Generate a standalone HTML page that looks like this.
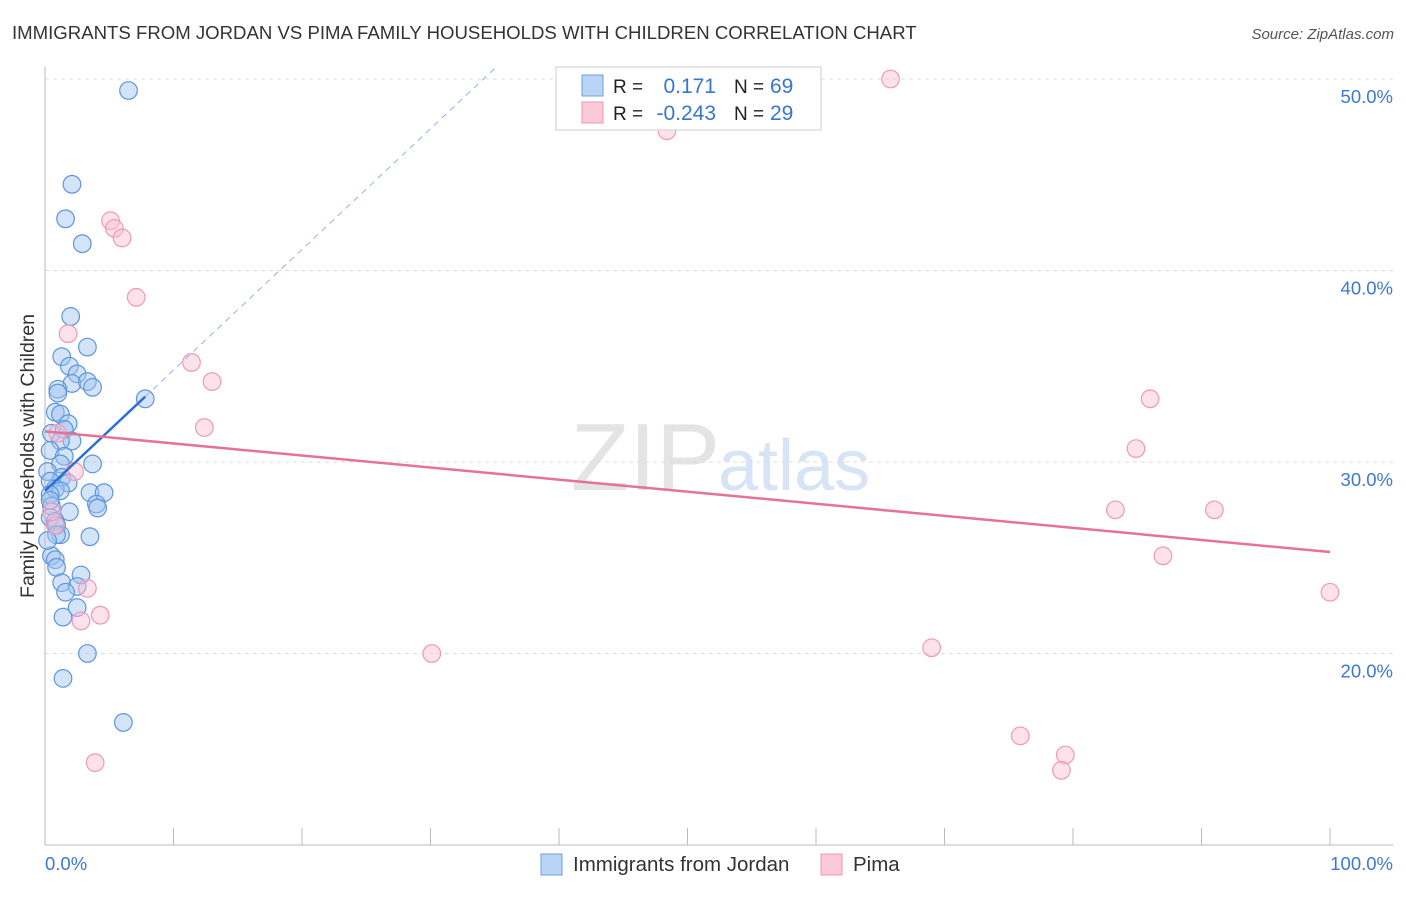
<!DOCTYPE html>
<html><head><meta charset="utf-8"><style>
body{margin:0;background:#fff;font-family:"Liberation Sans",sans-serif;}
svg text{font-family:"Liberation Sans",sans-serif;}
</style></head><body>
<svg id="chart" width="1406" height="892" xmlns="http://www.w3.org/2000/svg">
<text x="12" y="39" font-size="18.6" fill="#333">IMMIGRANTS FROM JORDAN VS PIMA FAMILY HOUSEHOLDS WITH CHILDREN CORRELATION CHART</text>
<text x="1394" y="39" font-size="15" fill="#555" font-style="italic" text-anchor="end">Source: ZipAtlas.com</text>
<text x="720" y="490" font-size="96" fill="#e4e4e4" text-anchor="end" font-family="Liberation Serif">ZIP</text>
<text x="718" y="490" font-size="72" fill="#d6e4f5">atlas</text>
<text transform="translate(34,456) rotate(-90)" font-size="19.5" fill="#333" text-anchor="middle">Family Households with Children</text>
<g id="grid"></g><g id="axes"></g><g id="marks"></g>
<g>
<rect x="556" y="67" width="265" height="63" fill="#fff" stroke="#ddd" stroke-width="1.5"/>
<rect x="582" y="75" width="21" height="21" fill="#b9d4f5" stroke="#6a9fe0"/>
<rect x="582" y="102" width="21" height="21" fill="#fbc9d8" stroke="#ee99b5"/>
<text x="613" y="93" font-size="19" fill="#222">R =</text><text x="716" y="93" font-size="21" fill="#3575d3" text-anchor="end">0.171</text>
<text x="734" y="93" font-size="19" fill="#222">N =</text><text x="770" y="93" font-size="21" fill="#3575d3">69</text>
<text x="613" y="120" font-size="19" fill="#222">R =</text><text x="716" y="120" font-size="21" fill="#3575d3" text-anchor="end">-0.243</text>
<text x="734" y="120" font-size="19" fill="#222">N =</text><text x="770" y="120" font-size="21" fill="#3575d3">29</text>
</g>
<g>
<rect x="541" y="854" width="21" height="21" fill="#b9d4f5" stroke="#6a9fe0"/>
<text x="573" y="871" font-size="20.5" fill="#333">Immigrants from Jordan</text>
<rect x="821" y="854" width="21" height="21" fill="#fbc9d8" stroke="#ee99b5"/>
<text x="853" y="871" font-size="20.5" fill="#333">Pima</text>
</g>
</svg>
<script>
const yTicks=[20,30,40,50];
const yTickLabels=["20.0%","30.0%","40.0%","50.0%"];
const xTickLabels=["0.0%","100.0%"];
const jordanX=[6.5,2.1,1.6,2.9,2.0,3.3,1.3,1.9,2.5,2.1,3.3,3.7,1.0,1.0,7.8,0.8,1.2,1.8,0.5,1.5,2.1,1.2,0.4,1.5,3.7,1.2,0.2,1.3,1.8,0.4,0.8,1.2,3.5,4.6,0.4,4.0,4.1,1.9,0.5,0.4,0.8,0.9,1.2,0.9,3.5,0.5,0.8,0.9,2.8,1.3,2.5,1.6,2.5,1.4,3.3,1.4,6.1,0.4,0.2];
const jordanY=[49.4,44.5,42.7,41.4,37.6,36.0,35.5,35.0,34.6,34.1,34.2,33.9,33.8,33.6,33.3,32.6,32.5,32.0,31.5,31.7,31.1,31.1,30.6,30.3,29.9,29.9,29.5,29.2,28.9,29.0,28.6,28.5,28.4,28.4,28.3,27.8,27.6,27.4,27.7,27.1,26.9,26.7,26.2,26.2,26.1,25.1,24.9,24.5,24.1,23.7,23.5,23.2,22.4,21.9,20.0,18.7,16.4,28.0,25.9];
const pimaX=[65.8,48.4,5.1,5.4,6.0,7.1,1.8,11.4,13.0,12.4,86.0,84.9,2.3,83.3,91.0,87.0,100,3.3,4.3,2.8,30.1,69.0,75.9,79.4,79.1,3.9,0.8,1.0,0.5];
const pimaY=[50.0,47.3,42.6,42.2,41.7,38.6,36.7,35.2,34.2,31.8,33.3,30.7,29.5,27.5,27.5,25.1,23.2,23.4,22.0,21.7,20.0,20.3,15.7,14.7,13.9,14.3,26.7,31.5,27.4];
const jordanTrend=[28.5,0.0,7.8,35.0];   // [yAt0, x0, xSolidEnd, xDashEnd]
const jordanSlope=0.63;
const pimaTrend=[31.6,25.3];
const NS="http://www.w3.org/2000/svg";
const sx=v=>45+v*12.85, sy=v=>462-(v-30)*19.15;
function mk(tag,attrs,parent){const e=document.createElementNS(NS,tag);for(const k in attrs)e.setAttribute(k,attrs[k]);document.getElementById(parent).appendChild(e);return e;}
yTicks.forEach((t,i)=>{
 const g=mk('line',{x1:45,x2:1393,y1:sy(t),y2:sy(t),stroke:'#ddd','stroke-dasharray':'4,4'},'grid');
 
 
 const l=mk('text',{x:1393,y:sy(t)+24,'font-size':18.5,fill:'#3b78d8','text-anchor':'end'},'axes');l.textContent=yTickLabels[i];
 
 
});
let a=mk('line',{x1:45,x2:45,y1:67,y2:845,stroke:'#bbb'},'axes');


a=mk('line',{x1:45,x2:1393,y1:845,y2:845,stroke:'#bbb'},'axes');


for(let i=0;i<=10;i++){const t=mk('line',{x1:sx(i*10),x2:sx(i*10),y1:828,y2:845,stroke:'#bbb'},'axes');
 
 }
[[0,'start',45],[1,'end',1393]].forEach(([i,anc,x])=>{const t=mk('text',{x:x,y:870,'font-size':18.5,fill:'#3b78d8','text-anchor':anc},'axes');t.textContent=xTickLabels[i];
 
 });
jordanX.forEach((x,i)=>{const c=mk('circle',{cx:sx(x),cy:sy(jordanY[i]),r:8.8,fill:'rgba(160,196,240,0.45)',stroke:'#5f95dd','stroke-width':1.2},'marks');
 
 });
pimaX.forEach((x,i)=>{const c=mk('circle',{cx:sx(x),cy:sy(pimaY[i]),r:8.8,fill:'rgba(250,190,210,0.45)',stroke:'#ee9ab6','stroke-width':1.2},'marks');
 
 });
const jy=x=>jordanTrend[0]+jordanSlope*x;
let tl=mk('line',{x1:sx(jordanTrend[2]),y1:sy(jy(jordanTrend[2])),x2:sx(jordanTrend[3]),y2:sy(jy(jordanTrend[3])),stroke:'#8fb4e6','stroke-dasharray':'6,5','stroke-width':1},'marks');


tl=mk('line',{x1:sx(jordanTrend[1]),y1:sy(jy(jordanTrend[1])),x2:sx(jordanTrend[2]),y2:sy(jy(jordanTrend[2])),stroke:'#2a6fd6','stroke-width':2.5},'marks');


tl=mk('line',{x1:sx(0),y1:sy(pimaTrend[0]),x2:sx(100),y2:sy(pimaTrend[1]),stroke:'#e8719a','stroke-width':2.5},'marks');


</script>
</body></html>
